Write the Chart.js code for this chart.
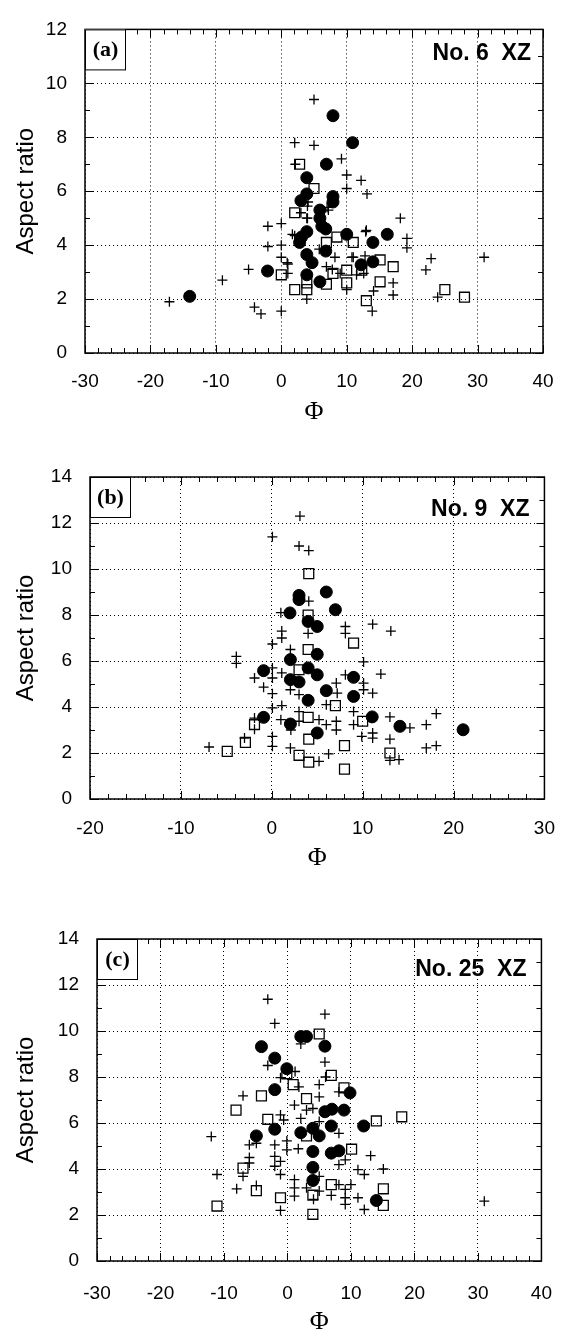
<!DOCTYPE html>
<html>
<head>
<meta charset="utf-8">
<script src="https://cdn.jsdelivr.net/npm/chart.js@4/dist/chart.umd.min.js"></script>
<style>
  body { margin: 0; background: #fff; }
  .wrap { position: absolute; left: 0; width: 573px; }
</style>
</head>
<body>
<div class="wrap" style="top:0"><canvas id="chartA" width="573" height="440"></canvas></div>
<div class="wrap" style="top:440px"><canvas id="chartB" width="573" height="440"></canvas></div>
<div class="wrap" style="top:880px"><canvas id="chartC" width="573" height="458"></canvas></div>
<script>
// (a) No. 6 XZ
const phiA_dot = [-14, -2.1, 2.8, 3.1, 3.0, 3.9, 3.9, 3.9, 3.9, 3.9, 4.7, 5.9, 5.9, 5.9, 6.2, 6.8, 6.9, 6.8, 7.9, 7.9, 7.9, 10, 10.9, 12.2, 14, 14, 16.2]
const arA_dot = [2.1, 3.04, 4.1, 4.3, 5.65, 5.9, 6.5, 4.5, 3.65, 2.9, 3.35, 5.3, 5.0, 2.64, 4.7, 4.6, 7.0, 3.78, 8.8, 5.8, 5.6, 4.4, 7.8, 3.27, 4.1, 3.38, 4.4]
const phiA_sq = [0, 2.05, 2.8, 2.05, 3.9, 3.9, 5.0, 6.9, 6.9, 7.9, 8.5, 10, 10, 11, 12.3, 13, 15.1, 15.1, 17.1, 25, 28]
const arA_sq = [2.9, 2.35, 7.0, 5.2, 2.35, 2.6, 6.1, 4.1, 2.55, 2.95, 4.3, 3.07, 2.6, 4.1, 3.07, 1.94, 3.45, 2.64, 3.2, 2.35, 2.07]
const phiA_cross = [-17.1, -9, -5, -4.1, -3.1, -2.05, -2.05, 0, 0, 0, 0, 1.0, 1.0, 0.9, 1.7, 2.05, 2.15, 2.05, 3.0, 3.9, 3.9, 4.0, 4.0, 4.1, 5.0, 5.0, 5.8, 6.9, 7.0, 7.2, 7.8, 8.2, 9.0, 9.2, 10, 10, 10, 10.8, 11, 11.5, 12.2, 12.6, 12.8, 12.9, 13, 13.1, 13.9, 14.1, 17.1, 17.1, 18.2, 19.2, 19.2, 22.1, 22.9, 23.9, 31]
const arA_cross = [1.9, 2.7, 3.1, 1.7, 1.45, 4.7, 3.95, 4.8, 4.0, 3.55, 1.55, 3.3, 2.95, 3.35, 4.4, 7.8, 7.0, 4.35, 5.2, 5.0, 2.0, 5.45, 5.0, 5.6, 9.4, 7.7, 3.85, 3.2, 5.4, 5.3, 3.1, 3.55, 2.95, 7.2, 6.6, 6.1, 2.35, 3.55, 3.55, 2.9, 6.4, 2.95, 3.6, 4.5, 4.55, 5.9, 1.55, 2.3, 2.6, 2.15, 5.0, 4.25, 3.9, 3.08, 3.5, 2.07, 3.55]

// (b) No. 9 XZ
const phiB_dot = [-0.9, -0.9, 2.0, 2.05, 2.05, 2.05, 3.0, 3.0, 3.0, 4.0, 4.0, 4.0, 5.0, 5.0, 5.0, 5.0, 6.0, 6.0, 7.0, 9, 9, 11.05, 14.1, 21.05]
const arB_dot = [5.58, 3.55, 8.09, 6.06, 5.19, 3.26, 8.85, 8.67, 5.09, 7.72, 5.7, 4.29, 7.5, 6.29, 5.4, 2.87, 9.0, 4.71, 8.23, 5.29, 4.46, 3.57, 3.16, 3.01]
const phiB_sq = [-4.9, -2.9, -1.9, 3, 3, 4.07, 4.0, 4.0, 4, 4.07, 4.07, 7, 8.0, 8, 9, 10, 13]
const arB_sq = [2.07, 2.46, 3.23, 5.62, 1.9, 9.8, 8.0, 6.5, 3.55, 2.6, 1.6, 4.06, 2.32, 1.3, 6.78, 3.38, 2.0]
const phiB_cross = [3.1, 0.07, 3.0, 4.07, 4.07, 1.0, 8.1, 8.1, 11.1, 13.1, 1.1, 1.1, 0.07, 4, -3.9, -3.9, 2.05, 10.1, 12.0, -1.9, 0.07, 0.07, -0.9, 0.07, 1.1, 2.05, 3, 7.1, 8.1, 7.2, 10.1, 10.1, 11.1, 6, 1.1, 0.07, -1.9, 1.0, 3.0, 3.0, 5.2, 6, 7.1, 7.1, 9, 9, 9.9, 11.1, 11.1, 13, 15.2, 17, 18.1, 17, 18.1, 13, 13, 14, 0.07, 0.07, 2.05, 6.25, 5.2, -6.9, -1.9, -3, 2.1]
const arB_cross = [12.3, 11.4, 11.0, 10.8, 8.6, 8.1, 7.5, 7.2, 7.6, 7.3, 7.3, 7.0, 6.74, 7.2, 6.2, 5.9, 6.5, 5.96, 5.43, 5.26, 5.7, 5.26, 4.86, 4.58, 5.48, 4.75, 4.54, 5.04, 5.4, 4.6, 5.04, 4.75, 4.6, 4.1, 4.06, 3.96, 3.52, 3.45, 3.8, 3.38, 3.45, 3.23, 3.38, 3.0, 3.8, 3.23, 2.72, 2.87, 2.65, 3.57, 3.09, 3.23, 3.71, 2.22, 2.32, 2.6, 1.68, 1.71, 2.72, 2.29, 2.22, 1.96, 1.64, 2.26, 3.03, 2.65, 3.0]

// (c) No. 25 XZ
const phiC_dot = [-4.9, -4.1, -2.0, -2.0, -2.0, -0.1, 2.1, 3.0, 2.1, 4.0, 4.0, 4.0, 4.0, 5.0, 5.9, 5.9, 6.9, 6.9, 7.0, 8.1, 8.9, 9.85, 12.0, 14.0]
const arC_dot = [5.44, 9.32, 8.82, 7.45, 5.73, 8.36, 9.76, 9.76, 5.58, 5.77, 4.76, 4.07, 3.5, 5.44, 9.34, 6.49, 5.87, 4.69, 6.6, 4.79, 6.56, 7.31, 5.87, 2.63]
const phiC_sq = [5.0, 6.9, -0.1, 0.9, 8.9, 3.0, -4.1, -8.1, -3.1, 14.0, 18.0, 3.0, 10.1, -7.0, -4.9, -1.1, 4.0, 6.9, 15.1, 15.1, -11.1, 4.0]
const arC_sq = [9.87, 8.07, 8.14, 7.67, 7.53, 7.06, 7.18, 6.56, 6.16, 6.09, 6.27, 5.44, 4.86, 4.04, 3.06, 2.75, 2.86, 3.32, 3.14, 2.42, 2.39, 2.03]
const phiC_cross = [-3.1, 5.9, -2.0, 2.1, 5.9, -3.1, 6.0, -1.1, 1.2, 1.8, 5.0, 8.1, -7.0, 5.0, 1.1, 3.0, 4.0, -1.1, -0.6, 2.1, 5.0, 8.1, -12.0, -6.0, -4.9, -2.0, -0.1, -0.1, 1.7, -2.0, -6.0, -6.0, -1.1, -2.0, -1.1, 8.1, 9.1, 11.1, 12.1, 15.1, 13.1, 1.1, 1.1, 1.1, 3.0, 5.0, 5.0, 8.1, 9.1, 9.1, 9.1, 10, 11.1, 12.1, 6.9, 4.1, -1.1, -8.0, -11.1, -7.0, -4.9, 31]
const arC_cross = [11.38, 10.73, 10.33, 9.44, 8.65, 8.5, 8.0, 7.97, 8.24, 7.57, 7.67, 7.35, 7.18, 7.14, 6.78, 6.56, 6.63, 6.35, 6.13, 6.2, 6.06, 5.55, 5.41, 5.05, 5.12, 5.05, 5.22, 4.83, 4.88, 4.55, 4.5, 4.26, 4.33, 4.12, 3.76, 4.19, 4.4, 3.97, 3.76, 4.0, 4.58, 3.54, 3.18, 2.82, 3.18, 3.04, 3.68, 3.32, 3.11, 2.75, 2.46, 3.32, 2.75, 2.24, 2.85, 2.68, 2.2, 3.14, 3.76, 3.68, 3.28, 2.6]

const pts = (xs, ys) => xs.map((v, i) => ({x: v, y: ys[i]}))

const framePlugin = {
  id: 'frame',
  afterDraw(chart, args, o) {
    const {ctx, chartArea: a, scales: {x, y}} = chart
    ctx.save()
    ctx.strokeStyle = '#000'
    ctx.lineWidth = 1
    ctx.beginPath()
    for (let v = x.min; v <= x.max + 0.01; v += 2) {
      const px = Math.round(x.getPixelForValue(v)) + 0.5
      const len = (v % 10 === 0) ? 8 : 5
      ctx.moveTo(px, a.bottom); ctx.lineTo(px, a.bottom - len)
      ctx.moveTo(px, a.top); ctx.lineTo(px, a.top + len)
    }
    for (let v = y.min; v <= y.max + 0.01; v += 1) {
      const py = Math.round(y.getPixelForValue(v)) + 0.5
      const len = (v % 2 === 0) ? 8 : 5
      ctx.moveTo(a.left, py); ctx.lineTo(a.left + len, py)
      ctx.moveTo(a.right, py); ctx.lineTo(a.right - len, py)
    }
    ctx.stroke()
    ctx.lineWidth = 1.5
    ctx.strokeRect(a.left, a.top, a.right - a.left, a.bottom - a.top)
    // panel tag box
    ctx.fillStyle = '#fff'
    ctx.fillRect(a.left, a.top, 40, 40)
    ctx.lineWidth = 1
    ctx.strokeRect(a.left + 0.5, a.top + 0.5, 40, 40)
    ctx.fillStyle = '#000'
    ctx.font = 'bold 22px "Liberation Serif", serif'
    ctx.textAlign = 'center'
    ctx.textBaseline = 'middle'
    ctx.fillText(o.tag, a.left + 20.5, a.top + 21)
    ctx.font = 'bold 23px "Liberation Sans", Arial, sans-serif'
    ctx.textAlign = 'right'
    ctx.fillText(o.title, a.right - o.titleDx, a.top + o.titleDy)
    ctx.restore()
  }
}

function makeChart(id, p) {
  return new Chart(document.getElementById(id), {
    type: 'scatter',
    data: {
      datasets: [
        {label: 'Filled', data: pts(p.dot[0], p.dot[1]), pointStyle: 'circle', radius: 6,
          backgroundColor: '#000', borderColor: '#000', borderWidth: 1},
        {label: 'Open', data: pts(p.sq[0], p.sq[1]), pointStyle: 'rect', radius: 7,
          backgroundColor: 'rgba(0,0,0,0)', borderColor: '#000', borderWidth: 1.3},
        {label: 'Cross', data: pts(p.cross[0], p.cross[1]), pointStyle: 'cross', radius: 5,
          borderColor: '#000', borderWidth: 1.3}
      ]
    },
    options: {
      responsive: false,
      animation: false,
      layout: {padding: {top: p.top, right: p.right, left: 0, bottom: 0}},
      scales: {
        x: {
          min: p.xMin, max: p.xMax,
          ticks: {stepSize: 10, padding: p.tickPad, color: '#000',
            font: {family: '"Liberation Sans", Arial', size: 19}},
          grid: {color: '#000', lineWidth: 1, drawTicks: false},
          border: {display: false, dash: [1, 3]},
          title: {display: true, text: 'Φ', color: '#000', padding: {bottom: p.phiPad},
            font: {family: '"Liberation Serif", serif', size: 26}},
          afterFit: s => { s.height = p.xH }
        },
        y: {
          min: 0, max: p.yMax,
          ticks: {stepSize: 2, padding: 18, color: '#000',
            font: {family: '"Liberation Sans", Arial', size: 19}},
          grid: {color: '#000', lineWidth: 1, drawTicks: false},
          border: {display: false, dash: [1, 3]},
          title: {display: true, text: 'Aspect ratio', color: '#000', padding: {top: 12},
            font: {family: '"Liberation Sans", Arial', size: 24}},
          afterFit: s => { s.width = p.yW }
        }
      },
      plugins: {
        legend: {display: false},
        tooltip: {enabled: false},
        frame: {tag: p.tag, title: p.title, titleDx: p.titleDx, titleDy: p.titleDy}
      }
    },
    plugins: [framePlugin]
  })
}

makeChart('chartA', {
  dot: [phiA_dot, arA_dot], sq: [phiA_sq, arA_sq], cross: [phiA_cross, arA_cross],
  xMin: -30, xMax: 40, yMax: 12, top: 24, right: 30, yW: 85, xH: 87,
  tickPad: 17, phiPad: 12, tag: '(a)', title: 'No. 6  XZ', titleDx: 12, titleDy: 24
})
makeChart('chartB', {
  dot: [phiB_dot, arB_dot], sq: [phiB_sq, arB_sq], cross: [phiB_cross, arB_cross],
  xMin: -20, xMax: 30, yMax: 14, top: 37, right: 23, yW: 90, xH: 81,
  tickPad: 18, phiPad: 6, tag: '(b)', title: 'No. 9  XZ', titleDx: 15, titleDy: 33
})
makeChart('chartC', {
  dot: [phiC_dot, arC_dot], sq: [phiC_sq, arC_sq], cross: [phiC_cross, arC_cross],
  xMin: -30, xMax: 40, yMax: 14, top: 59, right: 18, yW: 97, xH: 77,
  tickPad: 21, phiPad: 0, tag: '(c)', title: 'No. 25  XZ', titleDx: 15, titleDy: 31
})
</script>
</body>
</html>
